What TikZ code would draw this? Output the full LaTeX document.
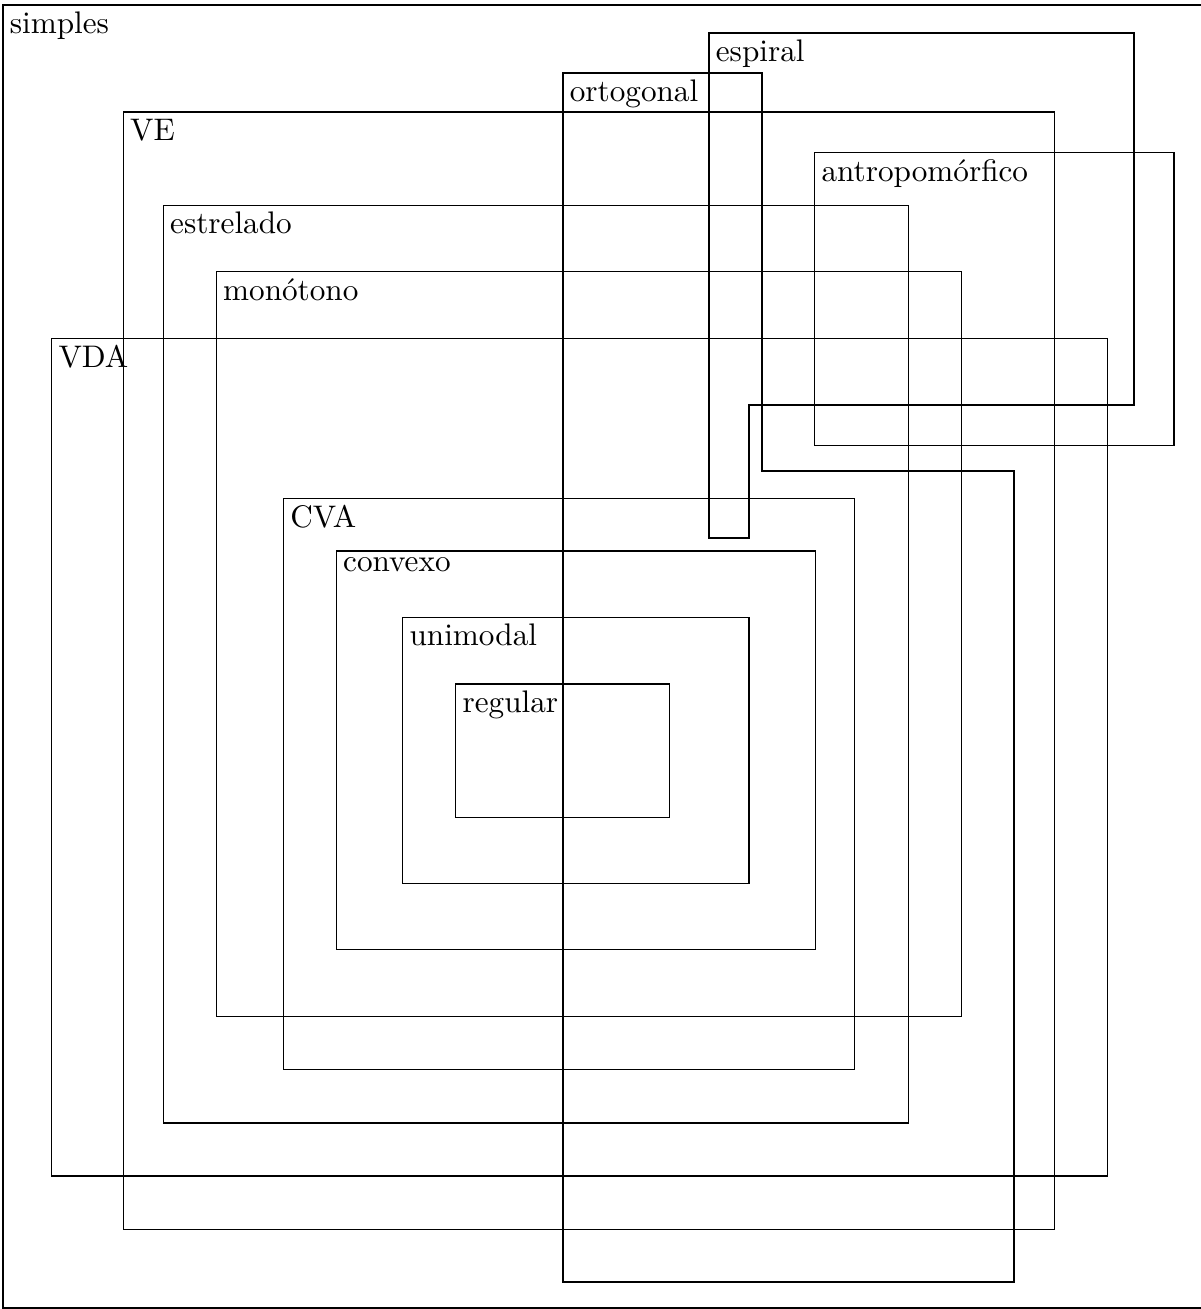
\documentclass[tikz,border=0pt]{standalone}
\begin{document}
\begin{tikzpicture}[x=0.3205pt,y=-0.3205pt,
  lbl/.style={anchor=north west, inner sep=2pt, font=\normalsize},
  region/.style={draw=black, line width=0.4pt}]
\useasboundingbox (0,0) rectangle (1200,1309);
% outer set
\draw[region] (3,5) rectangle (1215,1308);
\node[lbl] (simples) at (3,5) {simples};
% espiral
\draw[region] (709,33) -- (1134,33) -- (1134,405) -- (749,405) -- (749,538) -- (709,538) -- cycle;
\node[lbl] (espiral) at (709,33) {espiral};
% ortogonal
\draw[region] (563,73) -- (762,73) -- (762,471) -- (1014,471) -- (1014,1282) -- (563,1282) -- cycle;
\node[lbl] (ortogonal) at (563,73) {ortogonal};
% VE
\draw[region] (123.3,112) rectangle (1054.7,1229.3);
\node[lbl] (ve) at (123.3,112) {VE};
% antropomorfico
\draw[region] (814.7,152.3) rectangle (1174,445.3);
\node[lbl] (antro) at (814.7,152.3) {antropomórfico};
% estrelado
\draw[region] (163.3,205.3) rectangle (908.5,1123);
\node[lbl] (estrelado) at (163.3,205.3) {estrelado};
% monotono
\draw[region] (216.3,271.7) rectangle (961.7,1016.7);
\node[lbl] (monotono) at (216.3,271.7) {monótono};
% VDA
\draw[region] (51.7,338.3) rectangle (1107.7,1176);
\node[lbl] (vda) at (51.7,338.3) {VDA};
% CVA
\draw[region] (283.5,498.3) rectangle (854.8,1069.7);
\node[lbl] (cva) at (283.5,498.3) {CVA};
% convexo
\draw[region] (336.3,551) rectangle (815.3,949.3);
\node[lbl] (convexo) at (336.3,551) {convexo};
% unimodal
\draw[region] (402.7,617.3) rectangle (749,883.7);
\node[lbl] (unimodal) at (402.7,617.3) {unimodal};
% regular
\draw[region] (455.7,684) rectangle (669.3,817.3);
\node[lbl] (regular) at (455.7,684) {regular};
\end{tikzpicture}
\end{document}
